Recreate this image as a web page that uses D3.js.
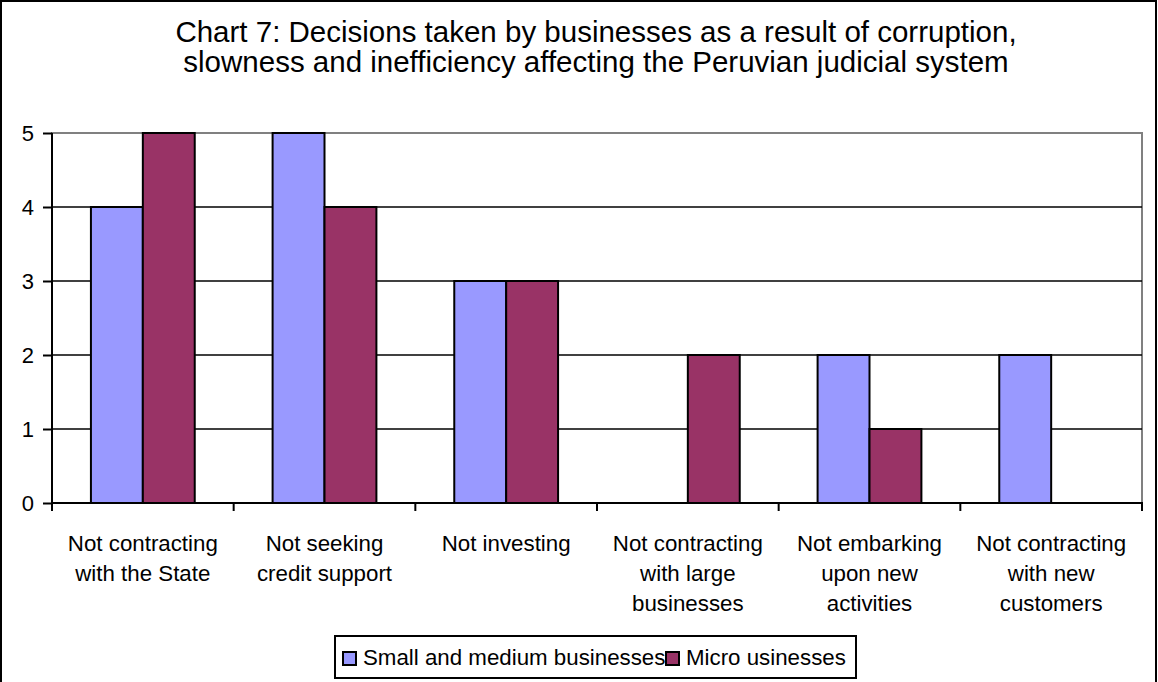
<!DOCTYPE html>
<html>
<head>
<meta charset="utf-8">
<script src="https://cdn.jsdelivr.net/npm/d3@7"></script>
<style>
  html, body { margin: 0; padding: 0; background: #fff; }
  svg { display: block; font-family: "Liberation Sans", Arial, sans-serif; }
</style>
</head>
<body>
<svg id="chart" width="1158" height="682"></svg>
<script>
// Chart data
const titleLines = [
  "Chart 7: Decisions taken by businesses as a result of corruption,",
  "slowness and inefficiency affecting the Peruvian judicial system"
];
const categories = [
  ["Not contracting", "with the State"],
  ["Not seeking", "credit support"],
  ["Not investing"],
  ["Not contracting", "with large", "businesses"],
  ["Not embarking", "upon new", "activities"],
  ["Not contracting", "with new", "customers"]
];
const seriesNames = ["Small and medium businesses", "Micro usinesses"];
const smallMedium = [4, 5, 3, 0, 2, 2];
const micro = [5, 4, 3, 2, 1, 0];
const yTicks = [0, 1, 2, 3, 4, 5];
const colors = ["#9999ff", "#993366"];

const svg = d3.select("#chart");
const W = 1158, H = 682;
const plot = { left: 52, right: 1142, top: 133, bottom: 503 };

// outer chart frame (runs past the bottom edge)
svg.append("rect")
  .attr("x", 1).attr("y", 1)
  .attr("width", W - 3).attr("height", H + 20)
  .attr("fill", "#fff").attr("stroke", "#000").attr("stroke-width", 2);

// title
const title = svg.append("text")
  .attr("text-anchor", "middle")
  .attr("font-size", 29.5)
  .attr("fill", "#000");
titleLines.forEach((t, i) => {
  title.append("tspan").attr("x", 596).attr("y", 41.5 + i * 30).text(t);
});

const idx = d3.range(categories.length);
const x0 = d3.scaleBand().domain(idx).range([plot.left, plot.right]).padding(0);
const bw = x0.bandwidth();
// Excel-style 150% gap: bar width = band / 3.5, offset 0.75 bar width
const barW = bw / 3.5;
const x1 = d3.scaleBand().domain([0, 1]).range([barW * 0.75, barW * 2.75]).padding(0);
const y = d3.scaleLinear().domain([0, 5]).range([plot.bottom, plot.top]);

// plot area frame (grey)
svg.append("rect")
  .attr("x", plot.left).attr("y", plot.top)
  .attr("width", plot.right - plot.left).attr("height", plot.bottom - plot.top)
  .attr("fill", "#fff").attr("stroke", "#808080").attr("stroke-width", 2);

// horizontal gridlines
svg.append("g").selectAll("line")
  .data(yTicks.filter(v => v > 0 && v < 5))
  .join("line")
  .attr("x1", plot.left).attr("x2", plot.right)
  .attr("y1", d => y(d)).attr("y2", d => y(d))
  .attr("stroke", "#000").attr("stroke-width", 1.5);

// bars
const series = [smallMedium, micro];
const groups = svg.append("g").selectAll("g")
  .data(idx)
  .join("g")
  .attr("transform", i => `translate(${x0(i)},0)`);
groups.selectAll("rect")
  .data(i => series.map((s, k) => ({ k, v: s[i] })))
  .join("rect")
  .filter(d => d.v > 0)
  .attr("x", d => x1(d.k))
  .attr("width", x1.bandwidth())
  .attr("y", d => y(d.v))
  .attr("height", d => y(0) - y(d.v))
  .attr("fill", d => colors[d.k])
  .attr("stroke", "#000")
  .attr("stroke-width", 2);

// y axis
const yAxis = svg.append("g")
  .attr("transform", `translate(${plot.left},0)`)
  .call(d3.axisLeft(y).tickValues(yTicks).tickFormat(d3.format("d")).tickSize(9).tickPadding(9));
yAxis.select(".domain").attr("stroke", "#000").attr("stroke-width", 2)
  .attr("d", `M0,${plot.top}V${plot.bottom}`);
yAxis.selectAll(".tick line").attr("stroke", "#000").attr("stroke-width", 2);
yAxis.selectAll(".tick text").attr("font-size", 22).attr("fill", "#000")
  .attr("font-family", "'Liberation Sans', Arial, sans-serif");

// x axis: ticks on category boundaries
const bounds = d3.range(categories.length + 1).map(i => plot.left + i * bw);
const xAxis = svg.append("g");
xAxis.append("line")
  .attr("x1", plot.left - 1).attr("x2", plot.right + 1)
  .attr("y1", plot.bottom).attr("y2", plot.bottom)
  .attr("stroke", "#000").attr("stroke-width", 2);
xAxis.selectAll(".xtick")
  .data(bounds)
  .join("line")
  .attr("class", "xtick")
  .attr("x1", d => d).attr("x2", d => d)
  .attr("y1", plot.bottom).attr("y2", plot.bottom + 8)
  .attr("stroke", "#000").attr("stroke-width", 2);

// category labels
xAxis.selectAll(".xlabel")
  .data(idx)
  .join("text")
  .attr("class", "xlabel")
  .attr("text-anchor", "middle")
  .attr("font-size", 22.3)
  .attr("fill", "#000")
  .each(function (i) {
    const t = d3.select(this);
    categories[i].forEach((line, j) => {
      t.append("tspan")
        .attr("x", x0(i) + bw / 2)
        .attr("y", 551 + j * 30)
        .text(line);
    });
  });

// legend
const legend = svg.append("g");
legend.append("rect")
  .attr("x", 335).attr("y", 636)
  .attr("width", 521).attr("height", 42)
  .attr("fill", "#fff").attr("stroke", "#000").attr("stroke-width", 2);
const items = legend.selectAll(".item")
  .data(seriesNames)
  .join("g")
  .attr("class", "item")
  .attr("transform", (d, i) => `translate(${343 + i * 323},0)`);
items.append("text")
  .attr("x", 20).attr("y", 665)
  .attr("font-size", 22.3)
  .attr("fill", "#000")
  .text(d => d);
items.append("rect")
  .attr("x", 0).attr("y", 652)
  .attr("width", 13).attr("height", 13)
  .attr("fill", (d, i) => colors[i])
  .attr("stroke", "#000").attr("stroke-width", 2);
</script>
</body>
</html>
